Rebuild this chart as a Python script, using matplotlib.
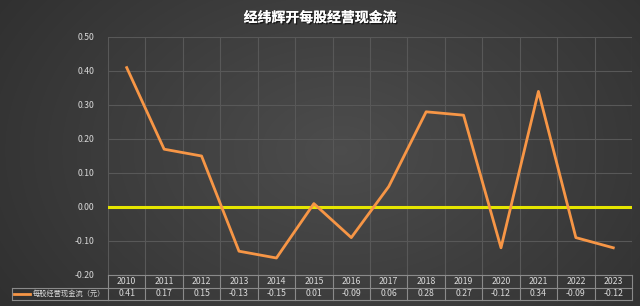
import matplotlib.pyplot as plt
import matplotlib.patheffects as pe
import numpy as np

plt.rcParams['font.family'] = ['Noto Sans CJK SC', 'DejaVu Sans']

years = ['2010', '2011', '2012', '2013', '2014', '2015', '2016',
         '2017', '2018', '2019', '2020', '2021', '2022', '2023']
values = [0.41, 0.17, 0.15, -0.13, -0.15, 0.01, -0.09,
          0.06, 0.28, 0.27, -0.12, 0.34, -0.09, -0.12]
series_name = '每股经营现金流（元）'
title = '经纬辉开每股经营现金流'
yticks = np.arange(-0.2, 0.51, 0.1)

text_col = '#d9d9d9'
grid_col = '#585858'
line_col = '#f79646'

fig = plt.figure(figsize=(6.4, 3.06), dpi=100)

# radial gradient background
bg = fig.add_axes([0, 0, 1, 1])
yy, xx = np.mgrid[0:306, 0:640]
r = np.sqrt(((xx - 340) / 400.0) ** 2 + ((yy - 150) / 280.0) ** 2)
shade = np.clip(0.30 - 0.11 * r, 0.17, 0.30)
bg.imshow(np.dstack([shade] * 3), aspect='auto', extent=[0, 1, 0, 1])
bg.axis('off')

ax = fig.add_axes([108 / 640, 1 - 275 / 306, 524 / 640, 238 / 306])
ax.patch.set_alpha(0)
n = len(years)
x = np.arange(n) + 0.5
ax.plot(x, values, color=line_col, lw=2.0, zorder=3)
ax.axhline(0, color='#e6e600', lw=2.2, zorder=2)
ax.set_xlim(0, n)
ax.set_ylim(-0.2, 0.5)
ax.set_yticks(yticks)
ax.set_yticklabels([f'{v:.2f}' for v in yticks], color=text_col, fontsize=6.3)
ax.set_xticks(np.arange(n + 1))
ax.set_xticklabels([])
ax.tick_params(length=0, pad=10)
ax.grid(True, color=grid_col, lw=0.8)
for s in ax.spines.values():
    s.set_visible(False)

# data table below the axes
trans = ax.get_xaxis_transform()
row_h = 12.5 / 238
tops = [0, -row_h, -2 * row_h]
tbl_col = '#8a8a8a'
for yv in tops:
    ax.plot([0, n], [yv, yv], transform=trans, color=tbl_col, lw=0.8, clip_on=False)
for i in range(n + 1):
    ax.plot([i, i], [0, tops[-1]], transform=trans, color=tbl_col, lw=0.8, clip_on=False)
lx = -(108 - 12) / 524 * n
ax.plot([lx, 0], [tops[1], tops[1]], transform=trans, color=tbl_col, lw=0.8, clip_on=False)
ax.plot([lx, 0], [tops[2], tops[2]], transform=trans, color=tbl_col, lw=0.8, clip_on=False)
ax.plot([lx, lx], [tops[1], tops[2]], transform=trans, color=tbl_col, lw=0.8, clip_on=False)
for i in range(n):
    ax.text(i + 0.5, -row_h / 2, years[i], transform=trans, ha='center', va='center',
            color=text_col, fontsize=6.3)
    ax.text(i + 0.5, -1.5 * row_h, f'{values[i]:.2f}', transform=trans, ha='center',
            va='center', color=text_col, fontsize=6.3)
ax.plot([lx + 0.05, lx + 0.48], [-1.5 * row_h] * 2, transform=trans, color=line_col,
        lw=2, clip_on=False)
ax.text(lx + 0.55, -1.5 * row_h, series_name, transform=trans, ha='left', va='center',
        color=text_col, fontsize=5.2)

fig.text(0.5, 1 - 18 / 306, title, ha='center', va='center', color='white',
         fontsize=10, fontweight='bold',
         path_effects=[pe.withSimplePatchShadow(offset=(1, -1), shadow_rgbFace='black', alpha=0.6),
                       pe.Normal()])

fig.savefig('out.png', dpi=100)
